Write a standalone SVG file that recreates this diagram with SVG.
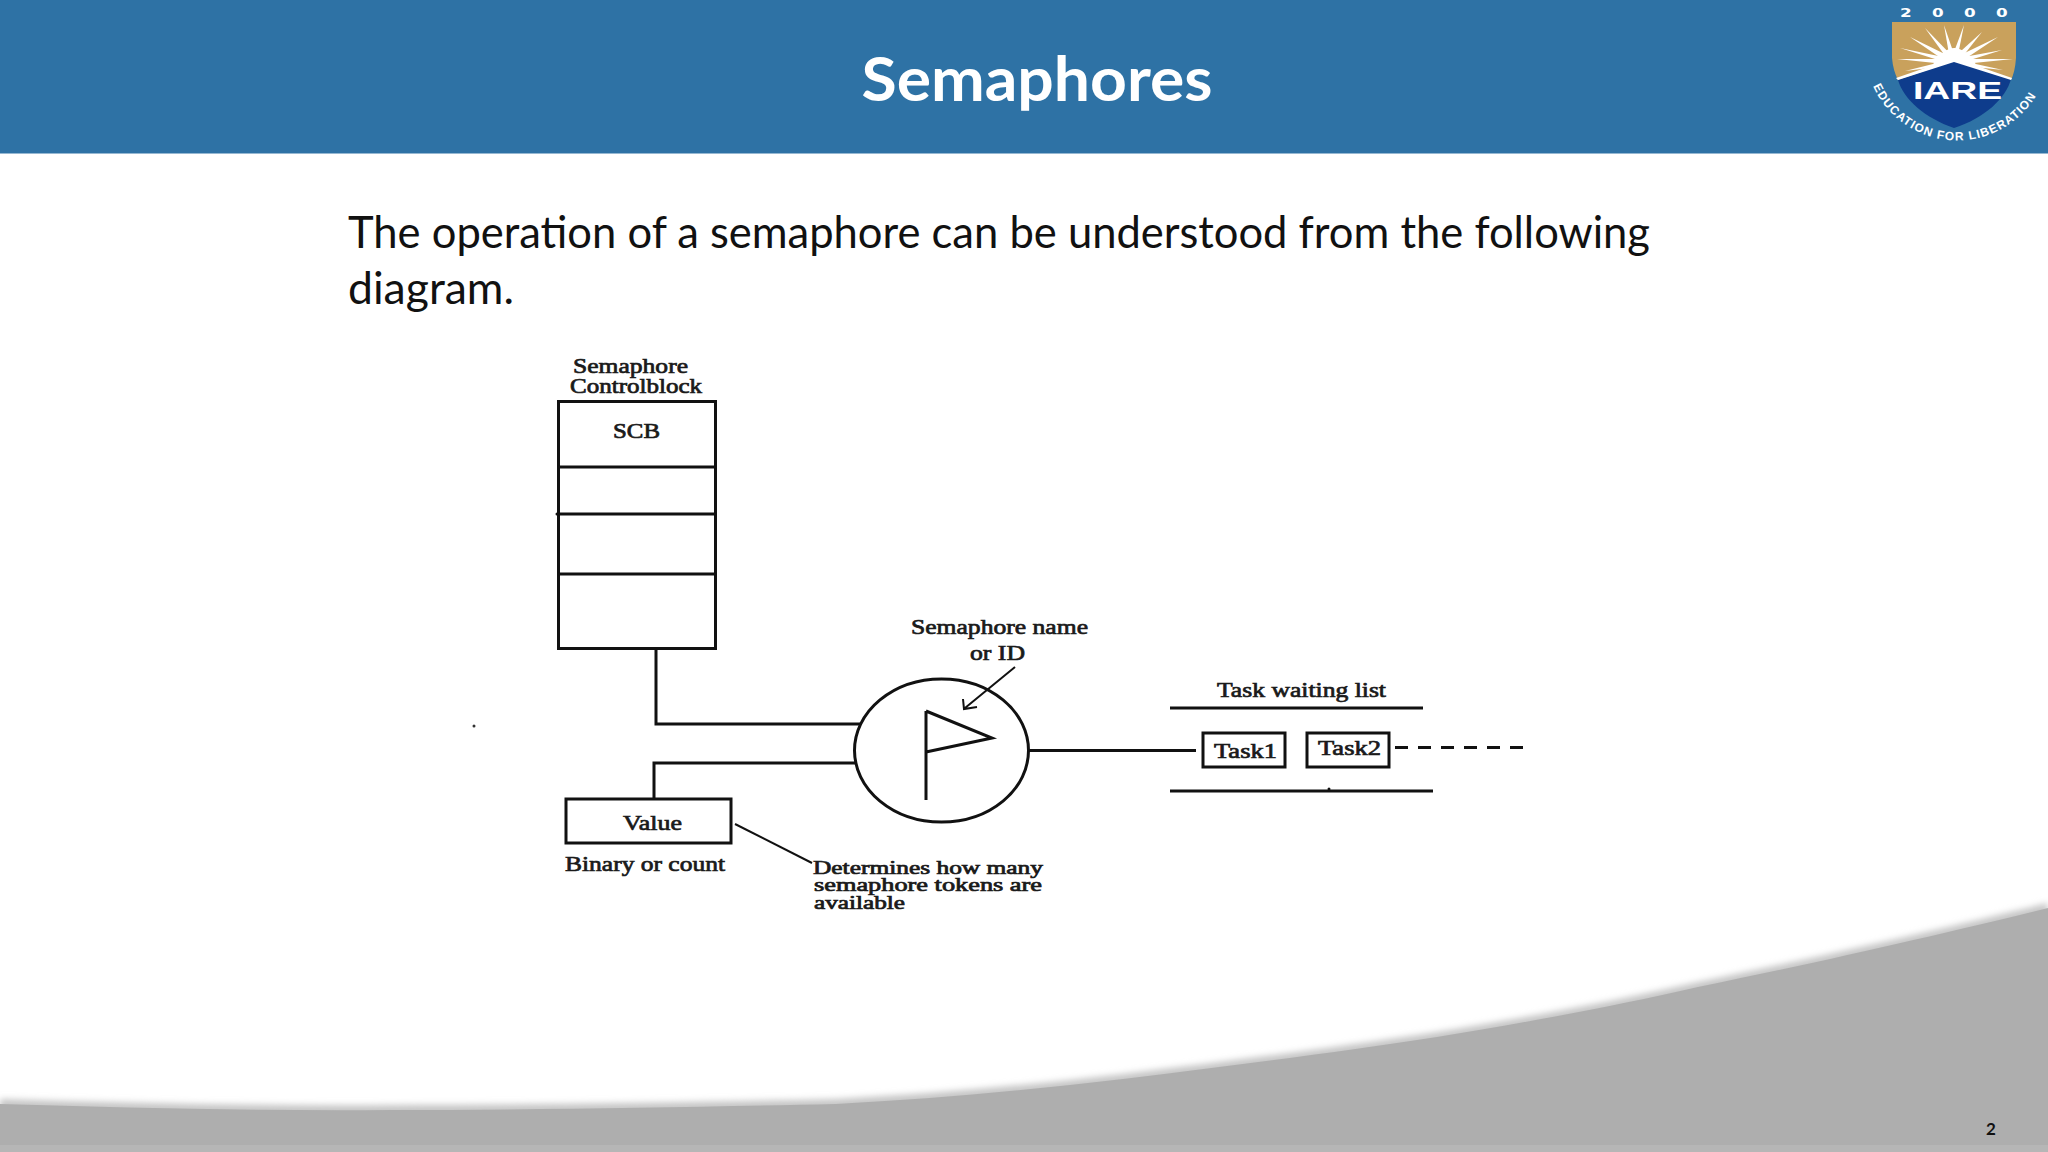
<svg xmlns="http://www.w3.org/2000/svg" width="2048" height="1152" viewBox="0 0 2048 1152">
<style>
.ln{fill:none;stroke:#111;stroke-width:3}
.thin{fill:none;stroke:#111;stroke-width:2}
.box{fill:#fff;stroke:#111;stroke-width:3}
.lb{font-family:"Liberation Serif",serif;font-size:21px;fill:#1a1a1a;stroke:#1a1a1a;stroke-width:.7}
.lc{font-size:18px}
.hd{font-family:Lato,"Open Sans",sans-serif}
.ray{fill:#fff}
</style>
<defs>
<filter id="soft" x="-5%" y="-20%" width="110%" height="140%"><feGaussianBlur stdDeviation="3"/></filter>
<path id="arc" d="M1873 86 A92 92 0 0 0 2041 86"/>
<path id="curve" d="M0 1104 C130 1108 260 1111 392 1110 C540 1110 700 1107 836 1104 C930 1099 1030 1090 1123 1079 C1230 1066 1340 1052 1437 1037 C1530 1022 1620 1005 1698 987 C1830 960 1950 932 2048 908 V1152 H0Z"/>
</defs>
<rect width="2048" height="1152" fill="#fff"/>
<g id="footer">
<use href="#curve" y="-5" fill="#c6c6c6" filter="url(#soft)"/>
<use href="#curve" fill="#aeaeae"/>
<rect y="1145" width="2048" height="7" fill="#b6b6b6"/>
<text x="1986" y="1135" font-family="Lato,sans-serif" font-weight="bold" font-size="17" fill="#111">2</text>
</g>
<g id="header">
<rect width="2048" height="153.500" fill="#2e72a5"/>
<text class="hd" x="1037" y="101" text-anchor="middle" font-weight="bold" font-size="61" fill="#fff" textLength="351" lengthAdjust="spacingAndGlyphs">Semaphores</text>
</g>
<g id="logo">
<path d="M1892 22 H2016 V58 Q2015 72 2011 80 L1954 62 L1898 80 Q1893 70 1892 58Z" fill="#c9a15c"/>
<g class="ray">
<polygon points="1944,25 1950,60 1956,60"/><polygon points="1964,25 1951,60 1957,60"/><polygon points="1925,28 1951,64 1956,60"/><polygon points="1982,32 1951,60 1956,65"/>
<polygon points="1910,37 1951,65 1955,59"/><polygon points="1998,37 1952,59 1956,65"/><polygon points="1900,48 1953,59 1954,65"/><polygon points="2002,50 1953,59 1954,65"/>
<polygon points="1897,59 1954,59 1954,65"/><polygon points="2013,59 1954,59 1954,65"/><polygon points="1905,71 1953,59 1954,65"/><polygon points="2003,70 1953,59 1954,65"/>
</g>
<path d="M1932 66 Q1954 30 1977 66 L1954 60Z" fill="#fff"/>
<path d="M1898 80 L1954 61 L2011 79 C2006 98 1985 118 1954 128 C1925 118 1904 100 1898 80Z" fill="#0e3c8c"/>
<path d="M1896 78 L1954 58 L2012 78 L2011 80 L1954 62 L1898 80Z" fill="#fff"/>
<text x="1957.500" y="99" text-anchor="middle" font-family="Liberation Sans,sans-serif" font-weight="bold" font-size="23" fill="#fff" textLength="89" lengthAdjust="spacingAndGlyphs">IARE</text>
<text transform="translate(1900 17) scale(1.4 1)" x="0 22.900 45.700 68.600" y="0" font-family="DejaVu Sans,sans-serif" font-weight="bold" font-size="12" fill="#fff">2000</text>
<text font-family="Liberation Sans,sans-serif" font-weight="bold" font-size="12" fill="#fff" letter-spacing="1.100"><textPath href="#arc">EDUCATION FOR LIBERATION</textPath></text>
</g>
<g id="intro" class="hd" font-size="44" fill="#111">
<text x="348" y="248" textLength="1302" lengthAdjust="spacingAndGlyphs">The operation of a semaphore can be understood from the following</text>
<text x="348" y="304" textLength="166" lengthAdjust="spacingAndGlyphs">diagram.</text>
</g>
<g id="connectors">
<path class="ln" d="M656 647V724H860"/>
<path class="ln" d="M654 798V763H855"/>
<path class="ln" d="M1029 750.500H1196"/>
<path class="thin" d="M1015 667L965 708M963 699L964 709L977 707"/>
<path class="thin" d="M735 824L812 863"/>
<path class="ln" d="M1395 747.500H1523" stroke-dasharray="13 10"/>
<path class="ln" d="M1170 708H1423"/>
<path class="ln" d="M1170 791H1433"/>
</g>
<g id="scb">
<rect class="box" x="558.500" y="401.500" width="157" height="247"/>
<path class="ln" d="M558 467H715M558 514H715M558 574H715"/>
<text class="lb" x="573" y="373" textLength="115" lengthAdjust="spacingAndGlyphs">Semaphore</text>
<text class="lb" x="570" y="393" textLength="132" lengthAdjust="spacingAndGlyphs">Controlblock</text>
<text class="lb" x="613" y="438" textLength="47" lengthAdjust="spacingAndGlyphs">SCB</text>
</g>
<g id="value">
<rect class="box" x="566" y="799" width="165" height="44"/>
<text class="lb" x="623" y="830" textLength="59" lengthAdjust="spacingAndGlyphs">Value</text>
<text class="lb" x="565" y="871" textLength="160" lengthAdjust="spacingAndGlyphs">Binary or count</text>
</g>
<g id="determines">
<text class="lb lc" x="813" y="874" textLength="230" lengthAdjust="spacingAndGlyphs">Determines how many</text>
<text class="lb lc" x="814" y="891" textLength="228" lengthAdjust="spacingAndGlyphs">semaphore tokens are</text>
<text class="lb lc" x="814" y="909" textLength="91" lengthAdjust="spacingAndGlyphs">available</text>
</g>
<g id="semaphore">
<ellipse cx="941.500" cy="750.500" rx="87" ry="71.500" fill="none" stroke="#111" stroke-width="3"/>
<path class="ln" d="M926 711V800M926 711L992 738L926 752"/>
<text class="lb" x="911" y="634" textLength="177" lengthAdjust="spacingAndGlyphs">Semaphore name</text>
<text class="lb" x="970" y="660" textLength="55" lengthAdjust="spacingAndGlyphs">or ID</text>
</g>
<g id="task-list">
<text class="lb" x="1217" y="697" textLength="169" lengthAdjust="spacingAndGlyphs">Task waiting list</text>
</g>
<g id="task1">
<rect class="box" x="1203" y="733" width="82" height="34"/>
<text class="lb" x="1214" y="758" textLength="63" lengthAdjust="spacingAndGlyphs">Task1</text>
</g>
<g id="task2">
<rect class="box" x="1307" y="733" width="82" height="34"/>
<text class="lb" x="1318" y="755" textLength="63" lengthAdjust="spacingAndGlyphs">Task2</text>
</g>
<circle cx="474" cy="726" r="1.500" fill="#333"/>
<circle cx="1329" cy="789" r="1.500" fill="#111"/>
<circle cx="557" cy="514" r="1.500" fill="#111"/>
</svg>
